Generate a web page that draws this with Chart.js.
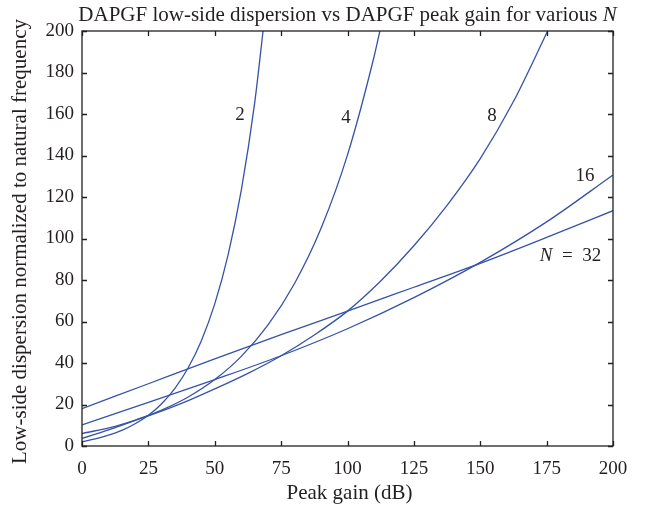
<!DOCTYPE html>
<html>
<head>
<meta charset="utf-8">
<script src="https://cdn.jsdelivr.net/npm/chart.js@4/dist/chart.umd.min.js"></script>
<style>
  html, body { margin: 0; padding: 0; background: #fff; }
  #wrap { width: 649px; height: 514px; }
</style>
</head>
<body>
<div id="wrap"><canvas id="chart" width="649" height="514"></canvas></div>
<script>
// peak gain (dB) and low-side dispersion, one pair per N
const gainN2 = [0, 5, 10, 15, 20, 25, 30, 35, 40, 45, 50, 55, 60, 65, 68.2];
const dispN2 = [2.1, 3.4, 5.2, 7.5, 10.7, 14.8, 20.4, 27.8, 37.7, 50.9, 68.5, 92, 123.3, 165, 200];

const gainN4 = [0, 10, 20, 30, 40, 50, 60, 70, 80, 90, 100, 110, 112.2];
const dispN4 = [3.7, 7.8, 12.4, 17.3, 23.6, 32, 43.2, 58.2, 78.2, 104.8, 140.3, 187.6, 200];

const gainN8 = [0, 12.5, 25, 37.5, 50, 62.5, 75, 87.5, 100, 112.5, 125, 137.5, 150, 162.5, 175.4];
const dispN8 = [6, 9.5, 14.5, 20.5, 27.5, 35, 43.5, 53.5, 65, 79.5, 96.5, 116, 138.5, 166, 200];

const gainN16 = [0, 25, 50, 75, 100, 125, 150, 175, 200];
const dispN16 = [10.2, 21, 32, 43.5, 56.5, 71.5, 88.5, 108, 130.6];

const gainN32 = [0, 25, 50, 75, 100, 125, 150, 175, 200];
const dispN32 = [18, 30, 42, 53.7, 65, 76.5, 88, 100.5, 113.4];

const xTicks = [0, 25, 50, 75, 100, 125, 150, 175, 200];
const yTicks = [0, 20, 40, 60, 80, 100, 120, 140, 160, 180, 200];

// curve labels, anchored in data units
const curveLabels = [
    { pre: '', it: '', post: '2', x: 59.5, y: 159.5 },
    { pre: '', it: '', post: '4', x: 99.4, y: 158 },
    { pre: '', it: '', post: '8', x: 154.4, y: 159 },
    { pre: '', it: '', post: '16', x: 189.5, y: 130 },
    { pre: '', it: 'N', post: '\u2002=\u20023' + '2', x: 184, y: 91.5 },
];

const ink = '#231f20';
const blue = '#3652a8';
const serif = '"Liberation Serif", "DejaVu Serif", serif';
const tickSize = 19;
const titleSize = 21;

const pairs = function (xs, ys) {
    return xs.map((v, i) => ({ x: v, y: ys[i] }));
};

// draws text made of plain + italic + plain pieces, centred on (cx, cy)
const drawMixed = function (ctx, size, pre, it, post, cx, cy) {
    const plain = `${size}px ${serif}`;
    const ital = `italic ${size}px ${serif}`;
    ctx.font = plain;
    const w1 = ctx.measureText(pre).width;
    const w3 = ctx.measureText(post).width;
    ctx.font = ital;
    const w2 = ctx.measureText(it).width;
    let px = cx - (w1 + w2 + w3) / 2;
    ctx.textAlign = 'left';
    ctx.textBaseline = 'middle';
    ctx.font = plain;
    ctx.fillText(pre, px, cy);
    px += w1;
    ctx.font = ital;
    ctx.fillText(it, px, cy);
    px += w2;
    ctx.font = plain;
    ctx.fillText(post, px, cy);
};

const decor = {
    id: 'decor',
    afterDraw(chart) {
        const { ctx, chartArea: a, scales } = chart;
        const x = scales.x;
        const y = scales.y;
        const tick = 5;
        ctx.save();
        ctx.strokeStyle = ink;
        ctx.lineWidth = 1.3;
        ctx.strokeRect(a.left, a.top, a.right - a.left, a.bottom - a.top);
        ctx.beginPath();
        for (const v of xTicks) {
            const px = Math.round(x.getPixelForValue(v)) + 0.5;
            ctx.moveTo(px, a.bottom); ctx.lineTo(px, a.bottom - tick);
            ctx.moveTo(px, a.top); ctx.lineTo(px, a.top + tick);
        }
        for (const v of yTicks) {
            const py = Math.round(y.getPixelForValue(v)) + 0.5;
            ctx.moveTo(a.left, py); ctx.lineTo(a.left + tick, py);
            ctx.moveTo(a.right, py); ctx.lineTo(a.right - tick, py);
        }
        ctx.stroke();

        ctx.fillStyle = ink;
        const mid = (a.left + a.right) / 2;
        drawMixed(ctx, titleSize, 'DAPGF low-side dispersion vs DAPGF peak gain for various ', 'N', '', mid, 15);
        drawMixed(ctx, titleSize, 'Peak gain (dB)', '', '', mid + 2, 493);

        ctx.save();
        ctx.translate(20, (a.top + a.bottom) / 2 + 3);
        ctx.rotate(-Math.PI / 2);
        drawMixed(ctx, titleSize, 'Low-side dispersion normalized to natural frequency', '', '', 0, 0);
        ctx.restore();

        for (const lb of curveLabels) {
            drawMixed(ctx, tickSize, lb.pre, lb.it, lb.post, x.getPixelForValue(lb.x), y.getPixelForValue(lb.y));
        }
        ctx.restore();
    },
};

const makeSet = function (label, xs, ys) {
    return {
        label: label,
        data: pairs(xs, ys),
        borderColor: blue,
        borderWidth: 1.3,
        pointRadius: 0,
        fill: false,
        cubicInterpolationMode: 'monotone',
    };
};

const init = function () {
    const ctx = document.querySelector('#chart');
    new Chart(ctx, {
        type: 'line',
        data: {
            datasets: [
                makeSet('N = 2', gainN2, dispN2),
                makeSet('N = 4', gainN4, dispN4),
                makeSet('N = 8', gainN8, dispN8),
                makeSet('N = 16', gainN16, dispN16),
                makeSet('N = 32', gainN32, dispN32),
            ],
        },
        options: {
            responsive: false,
            animation: false,
            layout: { padding: { top: 31, right: 36, left: 0, bottom: 0 } },
            plugins: {
                legend: { display: false },
                title: { display: false },
                tooltip: { enabled: false },
            },
            scales: {
                x: {
                    type: 'linear',
                    min: 0,
                    max: 200,
                    afterFit: (s) => { s.height = 68; },
                    afterBuildTicks: (s) => { s.ticks = xTicks.map((v) => ({ value: v })); },
                    grid: { display: false, drawTicks: false },
                    border: { display: false },
                    ticks: { color: ink, padding: 12, maxRotation: 0, font: { family: serif, size: tickSize } },
                },
                y: {
                    type: 'linear',
                    min: 0,
                    max: 200,
                    afterFit: (s) => { s.width = 82; },
                    afterBuildTicks: (s) => { s.ticks = yTicks.map((v) => ({ value: v })); },
                    grid: { display: false, drawTicks: false },
                    border: { display: false },
                    ticks: { color: ink, padding: 8, font: { family: serif, size: tickSize } },
                },
            },
        },
        plugins: [decor],
    });
};

document.addEventListener('DOMContentLoaded', init);
</script>
</body>
</html>
